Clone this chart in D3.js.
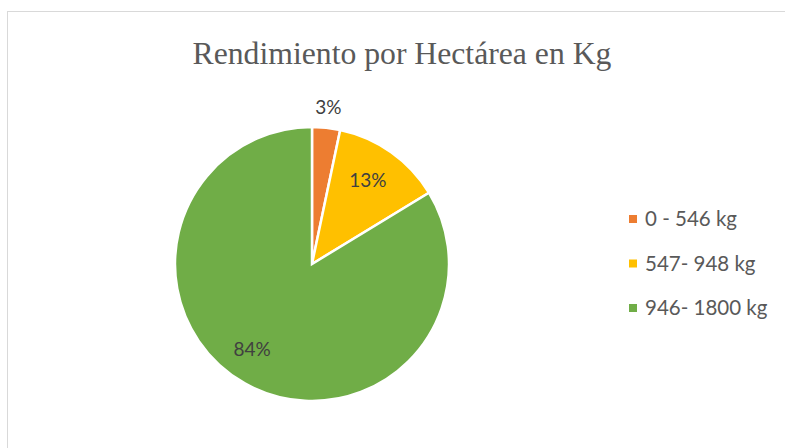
<!DOCTYPE html>
<html>
<head>
<meta charset="utf-8">
<script src="https://cdn.jsdelivr.net/npm/d3@7"></script>
<style>
  body { margin: 0; background: #fff; }
</style>
</head>
<body>
<script>
// datos del grafico
const categorias = ['0 - 546 kg', '547- 948 kg', '946- 1800 kg']
const valores = [3.3, 13.0, 83.7]
const colores = ['#ED7D31', '#FFC000', '#70AD47']
const titulo = 'Rendimiento por Hectárea en Kg'

const width = 785, height = 448
let svg = d3.select('body').append('svg')
    .attr('width', width)
    .attr('height', height)

// borde del area del grafico
svg.append('rect')
    .attr('x', 7.5).attr('y', 11.5)
    .attr('width', 800).attr('height', 460)
    .attr('fill', '#fff')
    .attr('stroke', '#d9d9d9')
    .attr('stroke-width', 1)

svg.append('text')
    .attr('x', 402).attr('y', 64)
    .attr('text-anchor', 'middle')
    .style('font-family', '"Liberation Serif", "Times New Roman", serif')
    .style('font-size', '31.7px')
    .attr('fill', '#595959')
    .text(titulo)

const cx = 312, cy = 264, radius = 137
let pie = d3.pie().sort(null).value(d => d)
let arcs = pie(valores)
let arc = d3.arc().innerRadius(0).outerRadius(radius)

let g = svg.append('g').attr('transform', 'translate(' + cx + ',' + cy + ')')

g.selectAll('path')
    .data(arcs)
    .enter()
    .append('path')
    .attr('d', arc)
    .attr('fill', (d, i) => colores[i])
    .attr('stroke', '#fff')
    .attr('stroke-width', 2.5)

// etiquetas de porcentaje
let total = d3.sum(valores)
arcs.forEach((d, i) => {
    let mid = (d.startAngle + d.endAngle) / 2
    let r = (d.endAngle - d.startAngle) < 0.3 ? 158 : 102
    g.append('text')
        .attr('x', Math.sin(mid) * r - (i == 2 ? 10 : (i == 1 ? 3 : 0)))
        .attr('y', -Math.cos(mid) * r - (i == 2 ? 4 : 0))
        .attr('dy', '0.35em')
        .attr('text-anchor', 'middle')
        .style('font-family', 'Lato, "Open Sans", sans-serif')
        .style('font-size', '19px')
        .attr('fill', '#404040')
        .text(Math.round(d.value / total * 100) + '%')
})

// leyenda
let leyenda = svg.append('g')
categorias.forEach((c, i) => {
    let y = 219 + i * 44.5
    leyenda.append('rect')
        .attr('x', 629).attr('y', y - 4)
        .attr('width', 8).attr('height', 8)
        .attr('fill', colores[i])
    leyenda.append('text')
        .attr('x', 645).attr('y', y)
        .attr('dy', '0.35em')
        .style('font-family', 'Lato, "Open Sans", sans-serif')
        .style('font-size', '20.5px')
        .attr('fill', '#595959')
        .text(c)
})
</script>
</body>
</html>
